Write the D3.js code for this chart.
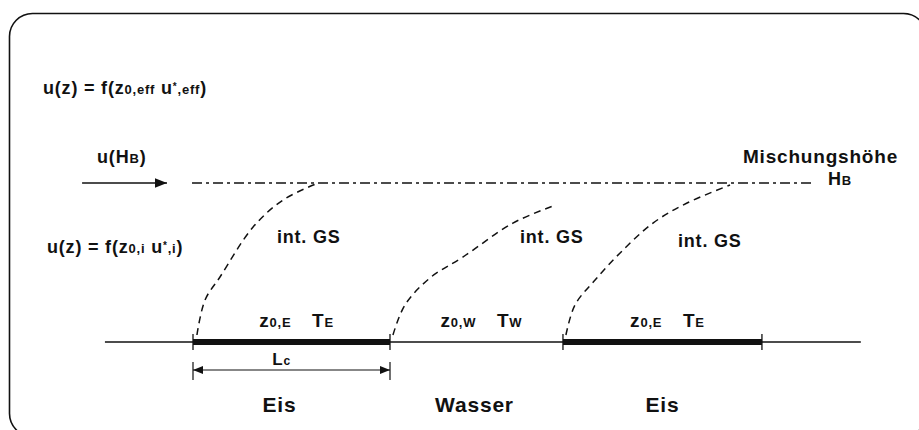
<!DOCTYPE html>
<html>
<head>
<meta charset="utf-8">
<script src="https://cdn.jsdelivr.net/npm/d3@7"></script>
<style>
  body { margin: 0; background: #fff; }
  text { font-family: "Liberation Sans", Arial, sans-serif; font-weight: bold; fill: #111; }
</style>
</head>
<body>
<script>
// distances in units of the ice fetch Lc, heights in units of the mixing height HB
const surfaceTypes = ["Eis", "Wasser", "Eis"];
const surfaceCode = ["E", "W", "E"];
const segmentStart = [0, 1, 1.878];
const segmentEnd = [1, 1.878, 2.888];
const groundExtent = [-0.447, 3.39];
const mixingHeight = 1;
const mixLineExtent = [-0.005, 3.157];
const windArrowExtent = [-0.563, -0.132];

// internal boundary layers (int. GS), [x, z]
const ibl1 = [[0.02, 0.044], [0.061, 0.264], [0.137, 0.409], [0.305, 0.723], [0.457, 0.893], [0.635, 1.0]];
const ibl2 = [[1.015, 0.044], [1.076, 0.233], [1.203, 0.403], [1.371, 0.535], [1.624, 0.748], [1.827, 0.855]];
const ibl3 = [[1.893, 0.044], [1.939, 0.233], [2.041, 0.39], [2.168, 0.56], [2.335, 0.748], [2.508, 0.874], [2.726, 0.987]];
const iblLabelX = [0.426, 1.66, 2.462];
const iblLabelZ = [0.623, 0.623, 0.597];

const W = 919, H = 430;
const svg = d3.select("body").append("svg").attr("width", W).attr("height", H);

const x = d3.scaleLinear().domain([0, 1]).range([193, 390]);
const y = d3.scaleLinear().domain([0, mixingHeight]).range([342, 183]);

// frame
svg.append("rect").attr("x", 9.5).attr("y", 13.5).attr("width", 917).attr("height", 423)
  .attr("rx", 23).attr("fill", "none").attr("stroke", "#111").attr("stroke-width", 1.6);

const defs = svg.append("defs");
defs.append("marker").attr("id", "head").attr("viewBox", "0 0 10 10")
  .attr("refX", 10).attr("refY", 5).attr("markerWidth", 12).attr("markerHeight", 10)
  .attr("markerUnits", "userSpaceOnUse").attr("orient", "auto-start-reverse")
  .append("path").attr("d", "M0,1L10,5L0,9Z").attr("fill", "#111");
defs.append("marker").attr("id", "bighead").attr("viewBox", "0 0 10 10")
  .attr("refX", 10).attr("refY", 5).attr("markerWidth", 17).attr("markerHeight", 12)
  .attr("markerUnits", "userSpaceOnUse").attr("orient", "auto")
  .append("path").attr("d", "M0,1L10,5L0,9Z").attr("fill", "#111");

function richText(g, px, py, parts, size, anchor) {
  const t = g.append("text").attr("x", px).attr("y", py)
    .attr("font-size", size).attr("text-anchor", anchor || "start")
    .style("letter-spacing", "0.8px");
  parts.forEach(([s, kind]) => {
    const sp = t.append("tspan").text(s);
    if (kind === "sub") sp.attr("font-size", Math.round(size * 0.7));
    if (kind === "sup") sp.attr("font-size", Math.round(size * 0.55)).attr("baseline-shift", "40%");
  });
  return t;
}

// ground line
svg.append("line")
  .attr("x1", x(groundExtent[0])).attr("x2", x(groundExtent[1]))
  .attr("y1", y(0)).attr("y2", y(0))
  .attr("stroke", "#111").attr("stroke-width", 1.5);

// ice segments (thick)
const segs = surfaceTypes.map((t, i) => ({ type: t, code: surfaceCode[i], a: segmentStart[i], b: segmentEnd[i] }));
svg.selectAll(".ice").data(segs.filter(d => d.type === "Eis")).join("line")
  .attr("x1", d => x(d.a)).attr("x2", d => x(d.b))
  .attr("y1", y(0)).attr("y2", y(0))
  .attr("stroke", "#111").attr("stroke-width", 6);

// boundary ticks
const edges = Array.from(new Set(segs.flatMap(d => [d.a, d.b])));
svg.selectAll(".tick").data(edges).join("line")
  .attr("x1", d => x(d)).attr("x2", d => x(d))
  .attr("y1", y(0) - 8).attr("y2", y(0) + 8)
  .attr("stroke", "#111").attr("stroke-width", 1.3);

// Lc dimension
const lcY = y(0) + 28;
svg.append("line").attr("x1", x(segs[0].a)).attr("x2", x(segs[0].b))
  .attr("y1", lcY).attr("y2", lcY)
  .attr("stroke", "#111").attr("stroke-width", 1.2)
  .attr("marker-start", "url(#head)").attr("marker-end", "url(#head)");
[segs[0].a, segs[0].b].forEach(v => {
  svg.append("line").attr("x1", x(v)).attr("x2", x(v))
    .attr("y1", lcY - 8).attr("y2", lcY + 10)
    .attr("stroke", "#111").attr("stroke-width", 1.2);
});
richText(svg, x(0.45), lcY - 5, [["L"], ["c", "sub"]], 17, "middle");

// surface labels
const labelShift = [-12, -2, 0];
segs.forEach((d, i) => {
  svg.append("text").attr("x", x((d.a + d.b) / 2) + labelShift[i]).attr("y", 412)
    .attr("text-anchor", "middle").attr("font-size", 21).style("letter-spacing", "0.8px").text(d.type);
  richText(svg, x((d.a + d.b) / 2) + 5, y(0) - 15,
    [["z"], ["0," + d.code, "sub"], ["\u2002\u2002T"], [d.code, "sub"]], 19, "middle");
});

// mixing height line
svg.append("line")
  .attr("x1", x(mixLineExtent[0])).attr("x2", x(mixLineExtent[1]))
  .attr("y1", y(mixingHeight)).attr("y2", y(mixingHeight))
  .attr("stroke", "#111").attr("stroke-width", 1.4).attr("stroke-dasharray", "10,4,3,4");
richText(svg, 898, y(mixingHeight) - 20, [["Mischungshöhe"]], 19, "end");
richText(svg, x(mixLineExtent[1]) + 13, y(mixingHeight) + 2, [["H"], ["B", "sub"]], 18, "start");

// wind arrow
svg.append("line")
  .attr("x1", x(windArrowExtent[0])).attr("x2", x(windArrowExtent[1]))
  .attr("y1", y(mixingHeight)).attr("y2", y(mixingHeight))
  .attr("stroke", "#111").attr("stroke-width", 1.6).attr("marker-end", "url(#bighead)");
richText(svg, x(windArrowExtent[0]) + 15, y(mixingHeight) - 20, [["u(H"], ["B", "sub"], [")"]], 18, "start");

// internal boundary layers
const line = d3.line().x(d => x(d[0])).y(d => y(d[1])).curve(d3.curveCatmullRom);
svg.selectAll(".ibl").data([ibl1, ibl2, ibl3]).join("path")
  .attr("d", line).attr("fill", "none")
  .attr("stroke", "#111").attr("stroke-width", 1.5).attr("stroke-dasharray", "7,5");
iblLabelX.forEach((v, i) => {
  richText(svg, x(v), y(iblLabelZ[i]), [["int. GS"]], 18, "start");
});

// formulas
richText(svg, 43, 94, [["u(z) = f(z"], ["0,eff", "sub"], [" u"], ["*", "sup"], [",eff", "sub"], [")"]], 18, "start");
richText(svg, 47, 253, [["u(z) = f(z"], ["0,i", "sub"], [" u"], ["*", "sup"], [",i", "sub"], [")"]], 18, "start");
</script>
</body>
</html>
